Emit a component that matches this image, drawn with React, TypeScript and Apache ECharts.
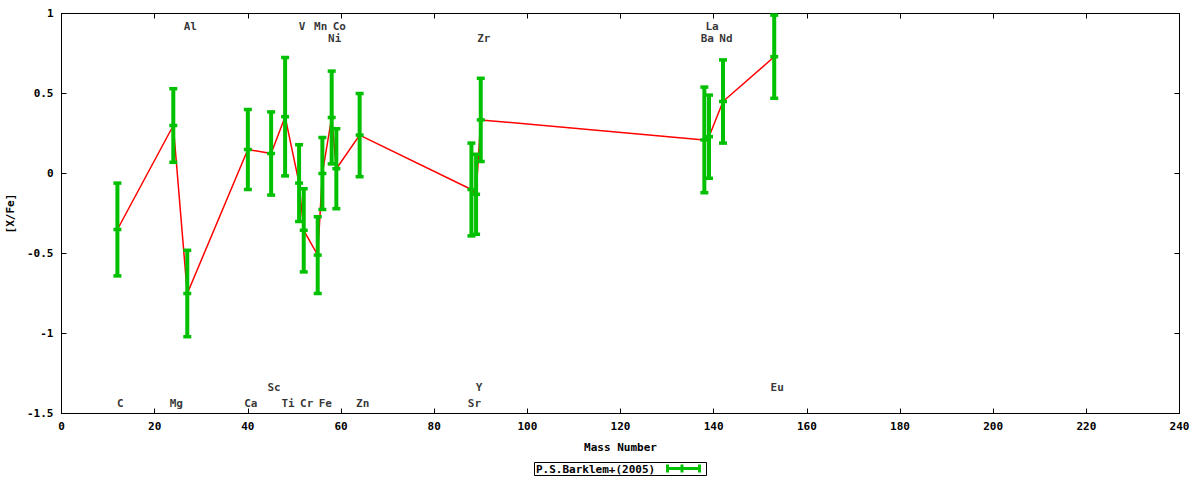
import React, { useEffect, useRef } from 'react';
import * as echarts from 'echarts';

const elements = ['C', 'Mg', 'Al', 'Ca', 'Sc', 'Ti', 'V', 'Cr', 'Mn', 'Fe', 'Ni', 'Co', 'Zn', 'Sr', 'Y', 'Zr', 'Ba', 'La', 'Nd', 'Eu'];
const massNumbers = [12, 24, 27, 40, 45, 48, 51, 52, 55, 56, 58, 59, 64, 88, 89, 90, 138, 139, 142, 153];
const abundances = [-0.35, 0.3, -0.75, 0.15, 0.125, 0.355, -0.06, -0.355, -0.51, 0.0, 0.35, 0.03, 0.24, -0.1, -0.13, 0.335, 0.21, 0.23, 0.45, 0.73];
const errors = [0.29, 0.23, 0.27, 0.25, 0.26, 0.37, 0.24, 0.26, 0.24, 0.225, 0.29, 0.25, 0.26, 0.29, 0.25, 0.26, 0.33, 0.26, 0.26, 0.26];
// height at which each element name is written
const labelRows = [-1.44, -1.44, 0.92, -1.44, -1.335, -1.44, 0.92, -1.44, 0.92, -1.44, 0.845, 0.92, -1.44, -1.44, -1.335, 0.845, 0.845, 0.92, 0.845, -1.335];

const seriesName = 'P.S.Barklem+(2005)';
const FONT = '"DejaVu Sans Mono", monospace';
const GREEN = '#00c000';

const App: React.FC = () => {
  const chartRef = useRef<HTMLDivElement>(null);

  useEffect(() => {
    if (!chartRef.current) return;
    const chart = echarts.init(chartRef.current, undefined, { renderer: 'svg' });

    const linePoints = massNumbers.map((m, i) => [m, abundances[i]]);
    const barPoints = massNumbers.map((m, i) => [m, abundances[i], errors[i]]);
    const labelPoints = massNumbers.map((m, i) => [m, labelRows[i], elements[i]]);

    const textStyle = { fontFamily: FONT, fontSize: 11, fontWeight: 'bold', color: '#000' };

    const xCommon = {
      type: 'value',
      min: 0,
      max: 240,
      interval: 20,
      splitLine: { show: false },
      axisLine: { show: true, onZero: false, lineStyle: { color: '#000', width: 1 } },
      axisTick: { show: true, inside: true, length: 5, lineStyle: { color: '#000' } },
    };
    const yCommon = {
      type: 'value',
      min: -1.5,
      max: 1,
      interval: 0.5,
      splitLine: { show: false },
      axisLine: { show: true, onZero: false, lineStyle: { color: '#000', width: 1 } },
      axisTick: { show: true, inside: true, length: 5, lineStyle: { color: '#000' } },
    };

    const option = {
      animation: false,
      grid: { left: 61.5, right: 20.5, top: 13.5, bottom: 66.5, outerBoundsMode: 'none', containLabel: false },
      xAxis: [
        {
          ...xCommon,
          position: 'bottom',
          name: 'Mass Number',
          nameLocation: 'middle',
          nameGap: 28,
          nameTextStyle: textStyle,
          axisLabel: { ...textStyle, margin: 7 },
        },
        { ...xCommon, position: 'top', axisLabel: { show: false } },
      ],
      yAxis: [
        {
          ...yCommon,
          position: 'left',
          name: '[X/Fe]',
          nameLocation: 'middle',
          nameGap: 43,
          nameRotate: 90,
          nameTextStyle: textStyle,
          axisLabel: { ...textStyle, margin: 8 },
        },
        { ...yCommon, position: 'right', axisLabel: { show: false } },
      ],
      series: [
        {
          type: 'line',
          data: linePoints,
          symbol: 'none',
          lineStyle: { color: '#ff0000', width: 1.5 },
          z: 2,
        },
        {
          type: 'custom',
          name: seriesName,
          data: barPoints,
          z: 3,
          renderItem: (params: any, api: any) => {
            const x = api.value(0);
            const y = api.value(1);
            const e = api.value(2);
            const c = api.coord([x, y]);
            const t = api.coord([x, y + e]);
            const b = api.coord([x, y - e]);
            const half = 4;
            const capStyle = { stroke: GREEN, lineWidth: 3.5 };
            return {
              type: 'group',
              children: [
                { type: 'line', shape: { x1: c[0], y1: t[1], x2: c[0], y2: b[1] }, style: { stroke: GREEN, lineWidth: 4 } },
                { type: 'line', shape: { x1: c[0] - half, y1: t[1], x2: c[0] + half, y2: t[1] }, style: capStyle },
                { type: 'line', shape: { x1: c[0] - half, y1: b[1], x2: c[0] + half, y2: b[1] }, style: capStyle },
                { type: 'line', shape: { x1: c[0] - half, y1: c[1], x2: c[0] + half, y2: c[1] }, style: capStyle },
              ],
            };
          },
        },
        {
          type: 'scatter',
          data: labelPoints,
          symbolSize: 0,
          silent: true,
          z: 4,
          label: {
            show: true,
            position: 'inside',
            offset: [3, 0],
            formatter: (p: any) => p.value[2],
            ...textStyle,
          },
        },
      ],
      graphic: [
        {
          type: 'rect',
          shape: { x: 534.5, y: 462.5, width: 172, height: 13 },
          style: { fill: '#fff', stroke: '#000', lineWidth: 1 },
        },
        {
          type: 'text',
          x: 536,
          y: 469,
          style: { text: seriesName, font: `bold 11px ${FONT}`, fill: '#000', verticalAlign: 'middle' },
        },
        { type: 'line', shape: { x1: 666, y1: 468.5, x2: 701, y2: 468.5 }, style: { stroke: GREEN, lineWidth: 3 } },
        { type: 'line', shape: { x1: 667.5, y1: 464.5, x2: 667.5, y2: 472.5 }, style: { stroke: GREEN, lineWidth: 3 } },
        { type: 'line', shape: { x1: 682, y1: 464.5, x2: 682, y2: 472.5 }, style: { stroke: GREEN, lineWidth: 3 } },
        { type: 'line', shape: { x1: 699.5, y1: 464.5, x2: 699.5, y2: 472.5 }, style: { stroke: GREEN, lineWidth: 3 } },
      ],
    };

    chart.setOption(option);

    const handleResize = () => chart.resize();
    window.addEventListener('resize', handleResize);
    return () => {
      window.removeEventListener('resize', handleResize);
      chart.dispose();
    };
  }, []);

  return (
    <div
      ref={chartRef}
      style={{ position: 'fixed', left: 0, top: 0, width: 1200, height: 480, background: '#fff' }}
    />
  );
};

export default App;
